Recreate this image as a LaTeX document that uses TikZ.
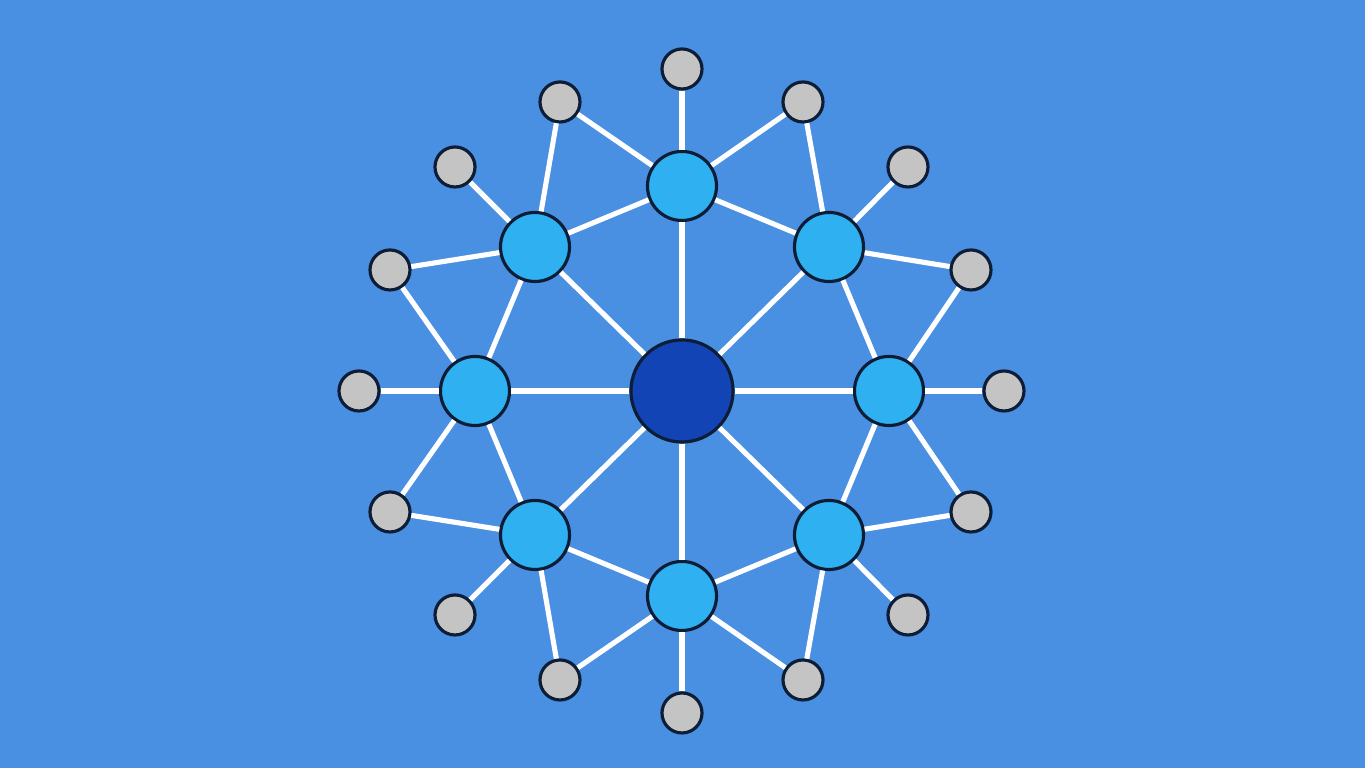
\documentclass[tikz,border=0pt]{standalone}
\usepackage{tikz}
\usepackage{color}
\usetikzlibrary{calc}
\definecolor{bgblue}{HTML}{4A90E2}
\definecolor{hubblue}{HTML}{1244B5}
\definecolor{ringblue}{HTML}{2FB0F0}
\definecolor{leafgray}{HTML}{C4C4C4}
\definecolor{rimnavy}{HTML}{0E1D36}
\begin{document}
\begin{tikzpicture}[x=0.01cm,y=0.01cm]
\tikzstyle{every node}+=[inner sep=0pt]
\tikzstyle{hub}=[circle,fill=hubblue,draw=rimnavy,line width=0.9pt,minimum size=1.02cm]
\tikzstyle{ring}=[circle,fill=ringblue,draw=rimnavy,line width=0.9pt,minimum size=0.69cm]
\tikzstyle{leaf}=[circle,fill=leafgray,draw=rimnavy,line width=0.9pt,minimum size=0.40cm]
\tikzstyle{link}=[white,line width=1.45pt]
\fill [bgblue] (0,0) rectangle (1365,768);
% hub
\node [hub] (c) at (682,377) {};
% inner ring
\node [ring] (rN) at (682,582) {};
\node [ring] (rNE) at (829,521) {};
\node [ring] (rE) at (889,377) {};
\node [ring] (rSE) at (829,233) {};
\node [ring] (rS) at (682,172) {};
\node [ring] (rSW) at (535,233) {};
\node [ring] (rW) at (475,377) {};
\node [ring] (rNW) at (535,521) {};
% outer leaves
\node [leaf] (o0) at (682,699) {};
\node [leaf] (o1) at (803,666) {};
\node [leaf] (o2) at (908,601) {};
\node [leaf] (o3) at (971,498) {};
\node [leaf] (o4) at (1004,377) {};
\node [leaf] (o5) at (971,256) {};
\node [leaf] (o6) at (908,153) {};
\node [leaf] (o7) at (803,88) {};
\node [leaf] (o8) at (682,55) {};
\node [leaf] (o9) at (560,88) {};
\node [leaf] (o10) at (455,153) {};
\node [leaf] (o11) at (390,256) {};
\node [leaf] (o12) at (359,377) {};
\node [leaf] (o13) at (390,498) {};
\node [leaf] (o14) at (455,601) {};
\node [leaf] (o15) at (560,666) {};
% spokes
\draw [link] (c) -- (rN);
\draw [link] (c) -- (rNE);
\draw [link] (c) -- (rE);
\draw [link] (c) -- (rSE);
\draw [link] (c) -- (rS);
\draw [link] (c) -- (rSW);
\draw [link] (c) -- (rW);
\draw [link] (c) -- (rNW);
% ring
\draw [link] (rN) -- (rNE);
\draw [link] (rNE) -- (rE);
\draw [link] (rE) -- (rSE);
\draw [link] (rSE) -- (rS);
\draw [link] (rS) -- (rSW);
\draw [link] (rSW) -- (rW);
\draw [link] (rW) -- (rNW);
\draw [link] (rNW) -- (rN);
% leaves
\draw [link] (rN) -- (o15);
\draw [link] (rN) -- (o0);
\draw [link] (rN) -- (o1);
\draw [link] (rNE) -- (o1);
\draw [link] (rNE) -- (o2);
\draw [link] (rNE) -- (o3);
\draw [link] (rE) -- (o3);
\draw [link] (rE) -- (o4);
\draw [link] (rE) -- (o5);
\draw [link] (rSE) -- (o5);
\draw [link] (rSE) -- (o6);
\draw [link] (rSE) -- (o7);
\draw [link] (rS) -- (o7);
\draw [link] (rS) -- (o8);
\draw [link] (rS) -- (o9);
\draw [link] (rSW) -- (o9);
\draw [link] (rSW) -- (o10);
\draw [link] (rSW) -- (o11);
\draw [link] (rW) -- (o11);
\draw [link] (rW) -- (o12);
\draw [link] (rW) -- (o13);
\draw [link] (rNW) -- (o13);
\draw [link] (rNW) -- (o14);
\draw [link] (rNW) -- (o15);
\end{tikzpicture}
\end{document}
